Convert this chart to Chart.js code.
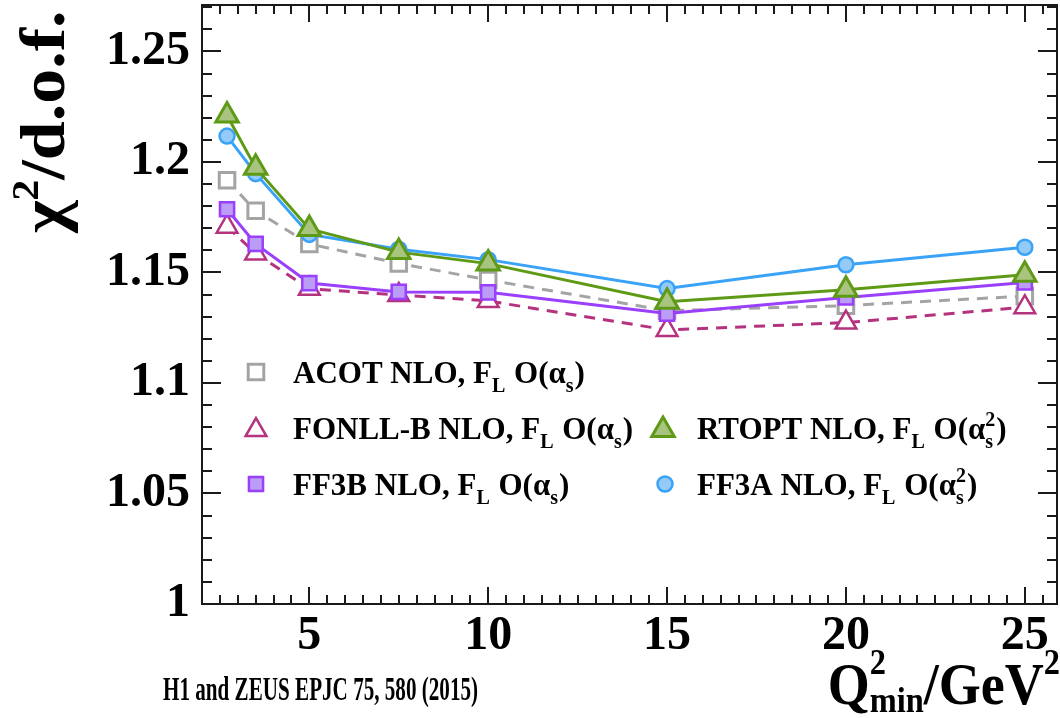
<!DOCTYPE html>
<html>
<head>
<meta charset="utf-8">
<script src="https://cdn.jsdelivr.net/npm/chart.js@4.4.1/dist/chart.umd.min.js"></script>
<style>
  html, body { margin: 0; padding: 0; background: #fff; }
  #wrap { width: 1060px; height: 718px; position: relative; }
</style>
</head>
<body>
<div id="wrap"><canvas id="c" width="1060" height="718"></canvas></div>
<script>
// Q^2_min cuts (GeV^2) and chi^2/d.o.f. of each fit
const q2min  = [2.7, 3.5, 5, 7.5, 10, 15, 20, 25];
const acot   = [1.1917, 1.1779, 1.1629, 1.1541, 1.1466, 1.1327, 1.1350, 1.1393];
const fonllB = [1.1707, 1.1586, 1.1426, 1.1398, 1.1371, 1.1240, 1.1273, 1.1343];
const ff3b   = [1.1786, 1.1629, 1.1452, 1.1412, 1.1410, 1.1314, 1.1387, 1.1455];
const rtopt  = [1.2210, 1.1974, 1.1697, 1.1592, 1.1540, 1.1368, 1.1422, 1.1490];
const ff3a   = [1.2117, 1.1947, 1.1672, 1.1605, 1.1558, 1.1427, 1.1535, 1.1614];
const xTicks = [5, 10, 15, 20, 25];
const yTicks = [1, 1.05, 1.1, 1.15, 1.2, 1.25];

const FAM = "'Liberation Serif', 'Times New Roman', serif";

function pts(vals) { return q2min.map((q, i) => ({ x: q, y: vals[i] })); }

// text with subscripts / superscripts: strings or {sub, sup}
function layoutRich(ctx, parts, size, draw, o) {
  let cx = 0;
  for (const p of parts) {
    if (typeof p === 'string') {
      ctx.font = `bold ${size}px ${FAM}`;
      if (draw) ctx.fillText(p, cx, 0);
      cx += ctx.measureText(p).width;
    } else {
      const s2 = Math.round(size * (p.scale || 0.64));
      ctx.font = `bold ${s2}px ${FAM}`;
      let w = 0;
      if (p.sub) {
        if (draw) ctx.fillText(p.sub, cx, size * (o.subDy || 0.36));
        w = Math.max(w, ctx.measureText(p.sub).width);
      }
      if (p.sup) {
        if (draw) ctx.fillText(p.sup, cx, -size * (o.supDy || 0.42));
        w = Math.max(w, ctx.measureText(p.sup).width);
      }
      cx += w + (o.gap || 0);
    }
  }
  return cx;
}
function drawRich(ctx, parts, x, y, size, o) {
  o = o || {};
  ctx.save();
  ctx.translate(x, y);
  if (o.rot) ctx.rotate(o.rot);
  ctx.scale(o.sx || 1, o.sy || 1);
  ctx.textAlign = 'left';
  ctx.textBaseline = 'alphabetic';
  const w = layoutRich(ctx, parts, size, true, o);
  ctx.restore();
  return w * (o.sx || 1);
}
function richWidth(ctx, parts, size, o) {
  o = o || {};
  ctx.save();
  const w = layoutRich(ctx, parts, size, false, o);
  ctx.restore();
  return w * (o.sx || 1);
}

const series = [
  { key: 'acot', label: ['ACOT NLO, F', { sub: 'L' }, ' O(\u03B1', { sub: 's' }, ')'],
    data: acot, line: '#a4a4a4', fill: '#ffffff', stroke: '#a4a4a4', style: 'rect', r: 11, bw: 3, dash: [11, 8], order: 5,
    leg: { x: 256, y: 372, text: 293, base: 383 } },
  { key: 'fonll', label: ['FONLL-B NLO, F', { sub: 'L' }, ' O(\u03B1', { sub: 's' }, ')'],
    data: fonllB, line: '#b5327f', fill: '#ffffff', stroke: '#b5327f', style: 'triangle', r: 12, bw: 2.5, dash: [11, 8], order: 4,
    leg: { x: 256, y: 430, text: 293, base: 439 } },
  { key: 'ff3b', label: ['FF3B NLO, F', { sub: 'L' }, ' O(\u03B1', { sub: 's' }, ')'],
    data: ff3b, line: '#9a3ffb', fill: '#bb9cf6', stroke: '#9a3ffb', style: 'rect', r: 10, bw: 2.5, dash: [], order: 3,
    leg: { x: 256, y: 484, text: 293, base: 495 } },
  { key: 'ff3a', label: ['FF3A NLO, F', { sub: 'L' }, ' O(\u03B1', { sub: 's', sup: '2' }, ')'],
    data: ff3a, line: '#3aa3f7', fill: '#94caf8', stroke: '#3aa3f7', style: 'circle', r: 7.5, bw: 2.5, dash: [], order: 2,
    leg: { x: 665, y: 484, text: 697, base: 495 } },
  { key: 'rtopt', label: ['RTOPT NLO, F', { sub: 'L' }, ' O(\u03B1', { sub: 's', sup: '2' }, ')'],
    data: rtopt, line: '#5f9a17', fill: '#a8c47e', stroke: '#5f9a17', style: 'triangle', r: 13, bw: 3, dash: [], order: 1,
    leg: { x: 663, y: 430, text: 697, base: 439 } }
];

// frame with inward major/minor ticks on all four sides
const frameTicks = {
  id: 'frameTicks',
  afterDatasetsDraw(chart) {
    const { ctx, chartArea: a, scales: { x, y } } = chart;
    ctx.save();
    ctx.strokeStyle = '#1a1a1a';
    ctx.lineWidth = 2;
    ctx.beginPath();
    for (let k = 5; k * 0.5 < x.max; k++) {
      const px = Math.round(x.getPixelForValue(k * 0.5));
      const len = (k % 10 === 0) ? 17 : 9;
      ctx.moveTo(px, a.bottom); ctx.lineTo(px, a.bottom - len);
      ctx.moveTo(px, a.top); ctx.lineTo(px, a.top + len);
    }
    for (let k = 101; k / 100 < y.max; k++) {
      const py = Math.round(y.getPixelForValue(k / 100));
      const len = (k % 5 === 0) ? 19 : 10;
      ctx.moveTo(a.left, py); ctx.lineTo(a.left + len, py);
      ctx.moveTo(a.right, py); ctx.lineTo(a.right - len, py);
    }
    ctx.stroke();
    ctx.strokeRect(a.left, a.top, a.right - a.left, a.bottom - a.top);
    ctx.restore();
  }
};

// legend, axis titles and reference line
const annotations = {
  id: 'annotations',
  afterDraw(chart) {
    const ctx = chart.ctx;
    ctx.save();
    for (const s of series) {
      const L = s.leg;
      ctx.save();
      ctx.fillStyle = s.fill; ctx.strokeStyle = s.stroke; ctx.lineWidth = s.bw;
      Chart.helpers.drawPoint(ctx, { pointStyle: s.style, radius: s.r, borderWidth: s.bw, rotation: 0 }, L.x, L.y);
      ctx.restore();
      ctx.fillStyle = '#000';
      drawRich(ctx, s.label, L.text, L.base, 31, { gap: 1, subDy: 0.3, supDy: 0.42 });
    }
    ctx.fillStyle = '#000';
    // y axis title, rotated
    drawRich(ctx, ['\u03C7', { sup: '2', scale: 0.6 }, '/d.o.f.'], 64, 233, 70,
             { rot: -Math.PI / 2, sy: 0.9, supDy: 0.42 });
    // x axis title, right aligned
    const xParts = ['Q', { sub: 'min', sup: '2', scale: 0.6 }, '/GeV', { sup: '2', scale: 0.6 }];
    const xo = { sx: 0.9, subDy: 0.14, supDy: 0.5 };
    const w = richWidth(ctx, xParts, 60, xo);
    drawRich(ctx, xParts, 1060 - w, 704, 60, xo);
    // reference
    drawRich(ctx, ['H1 and ZEUS EPJC 75, 580 (2015)'], 163, 700, 33, { sx: 0.64 });
    ctx.restore();
  }
};

const tickFont = { family: FAM, size: 48, weight: 'bold' };

new Chart(document.getElementById('c'), {
  type: 'line',
  data: {
    datasets: series.map(s => ({
      label: s.key,
      data: pts(s.data),
      borderColor: s.line,
      borderWidth: 3,
      borderDash: s.dash,
      backgroundColor: s.fill,
      pointStyle: s.style,
      pointRadius: s.r,
      pointBorderWidth: s.bw,
      pointBackgroundColor: s.fill,
      pointBorderColor: s.stroke,
      tension: 0,
      fill: false,
      clip: false,
      order: s.order
    }))
  },
  options: {
    responsive: false,
    animation: false,
    devicePixelRatio: 1,
    layout: { autoPadding: false, padding: { top: 5, right: 3, left: 0, bottom: 0 } },
    plugins: { legend: { display: false }, tooltip: { enabled: false } },
    scales: {
      x: {
        type: 'linear', min: 2, max: 25.9,
        afterBuildTicks: sc => { sc.ticks = xTicks.map(v => ({ value: v })); },
        afterFit: sc => { sc.height = 114; sc.paddingLeft = 0; sc.paddingRight = 0; },
        grid: { display: false, drawTicks: false },
        border: { display: false },
        ticks: { font: tickFont, color: '#000', padding: 4, maxRotation: 0, autoSkip: false,
                 callback: v => String(v) }
      },
      y: {
        type: 'linear', min: 1, max: 1.271,
        afterBuildTicks: sc => { sc.ticks = yTicks.map(v => ({ value: v })); },
        afterFit: sc => { sc.width = 202; sc.paddingTop = 0; sc.paddingBottom = 0; },
        grid: { display: false, drawTicks: false },
        border: { display: false },
        ticks: { font: { family: FAM, size: 48, weight: 'bold', lineHeight: 0.2 }, color: '#000',
                 padding: 12, autoSkip: false, callback: v => String(+v.toFixed(2)) }
      }
    }
  },
  plugins: [frameTicks, annotations]
});
</script>
</body>
</html>
